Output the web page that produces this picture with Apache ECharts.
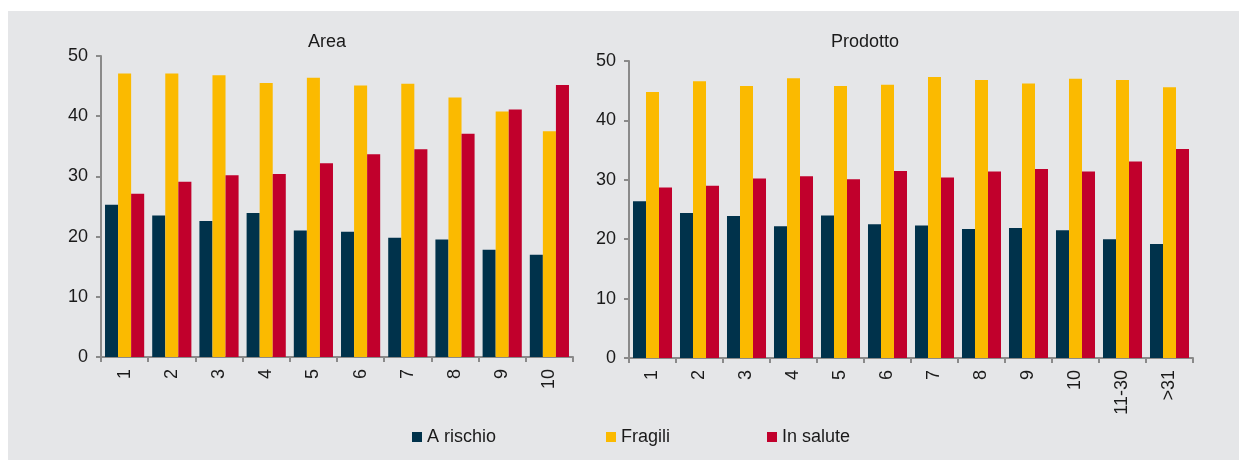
<!DOCTYPE html>
<html>
<head>
<meta charset="utf-8">
<script src="https://cdn.jsdelivr.net/npm/echarts@6/dist/echarts.min.js"></script>
<style>
  html, body { margin: 0; padding: 0; background: #ffffff; }
  #chart {
    position: absolute;
    left: 8px;
    top: 11px;
    width: 1231px;
    height: 449px;
    background: #e5e6e8;
  }
</style>
</head>
<body>
<div id="chart"></div>
<script>
// categorie
const areaCategories = ["1", "2", "3", "4", "5", "6", "7", "8", "9", "10"];
const prodCategories = ["1", "2", "3", "4", "5", "6", "7", "8", "9", "10", "11-30", ">31"];

// Area
const areaRischio = [25.3, 23.5, 22.6, 23.9, 21.0, 20.8, 19.8, 19.5, 17.8, 17.0];
const areaFragili = [47.1, 47.1, 46.8, 45.5, 46.4, 45.1, 45.4, 43.1, 40.8, 37.5];
const areaSalute = [27.1, 29.1, 30.2, 30.4, 32.2, 33.7, 34.5, 37.1, 41.1, 45.2];

// Prodotto
const prodRischio = [26.4, 24.4, 23.9, 22.2, 24.0, 22.5, 22.3, 21.7, 21.9, 21.5, 20.0, 19.2];
const prodFragili = [44.8, 46.6, 45.8, 47.1, 45.8, 46.0, 47.3, 46.8, 46.2, 47.0, 46.8, 45.6];
const prodSalute = [28.7, 29.0, 30.2, 30.6, 30.1, 31.5, 30.4, 31.4, 31.8, 31.4, 33.1, 35.2];

const seriesNames = ["A rischio", "Fragili", "In salute"];
const colors = ["#00324b", "#fbba00", "#c1002c"];

const font = "'Liberation Sans', Arial, sans-serif";
const axisGray = "#8a8a8a";
const fontSize = 18;

function xAxisOf(gridIndex, cats) {
  return {
    type: "category",
    gridIndex: gridIndex,
    data: cats,
    boundaryGap: true,
    axisLine: { show: true, lineStyle: { color: axisGray, width: 2 } },
    axisTick: { show: true, length: 5, lineStyle: { color: axisGray, width: 2 } },
    axisLabel: {
      rotate: 90,
      margin: 12,
      color: "#1a1a1a",
      fontSize: fontSize,
      fontFamily: font,
    },
  };
}

function yAxisOf(gridIndex) {
  return {
    type: "value",
    gridIndex: gridIndex,
    min: 0,
    max: 50,
    interval: 10,
    axisLine: { show: true, lineStyle: { color: axisGray, width: 2 } },
    axisTick: { show: true, length: 5, lineStyle: { color: axisGray, width: 2 } },
    splitLine: { show: false },
    axisLabel: {
      margin: 13,
      color: "#1a1a1a",
      fontSize: fontSize,
      fontFamily: font,
    },
  };
}

function barsOf(idx, lists) {
  return lists.map((data, i) => ({
    name: seriesNames[i],
    type: "bar",
    xAxisIndex: idx,
    yAxisIndex: idx,
    data: data,
    barGap: "0%",
    barCategoryGap: "17%",
    itemStyle: { color: colors[i] },
    emphasis: { disabled: true },
  }));
}

function legendOf(name, left) {
  return {
    data: [name],
    left: left,
    top: 412,
    icon: "rect",
    itemWidth: 10,
    itemHeight: 10,
    textStyle: { color: "#1a1a1a", fontSize: fontSize, fontFamily: font },
  };
}

const chart = echarts.init(document.getElementById("chart"));

const option = {
  animation: false,
  color: colors,
  title: [
    {
      text: "Area",
      left: 314,
      top: 17,
      textAlign: "center",
      textStyle: { color: "#1a1a1a", fontSize: fontSize, fontWeight: "normal", fontFamily: font },
    },
    {
      text: "Prodotto",
      left: 852,
      top: 17,
      textAlign: "center",
      textStyle: { color: "#1a1a1a", fontSize: fontSize, fontWeight: "normal", fontFamily: font },
    },
  ],
  legend: [
    legendOf("A rischio", 399),
    legendOf("Fragili", 593),
    legendOf("In salute", 754),
  ],
  grid: [
    { left: 93, top: 45, width: 472, height: 301 },
    { left: 621, top: 50, width: 564, height: 297 },
  ],
  xAxis: [xAxisOf(0, areaCategories), xAxisOf(1, prodCategories)],
  yAxis: [yAxisOf(0), yAxisOf(1)],
  series: barsOf(0, [areaRischio, areaFragili, areaSalute]).concat(
    barsOf(1, [prodRischio, prodFragili, prodSalute])
  ),
};

chart.setOption(option);
</script>
</body>
</html>
